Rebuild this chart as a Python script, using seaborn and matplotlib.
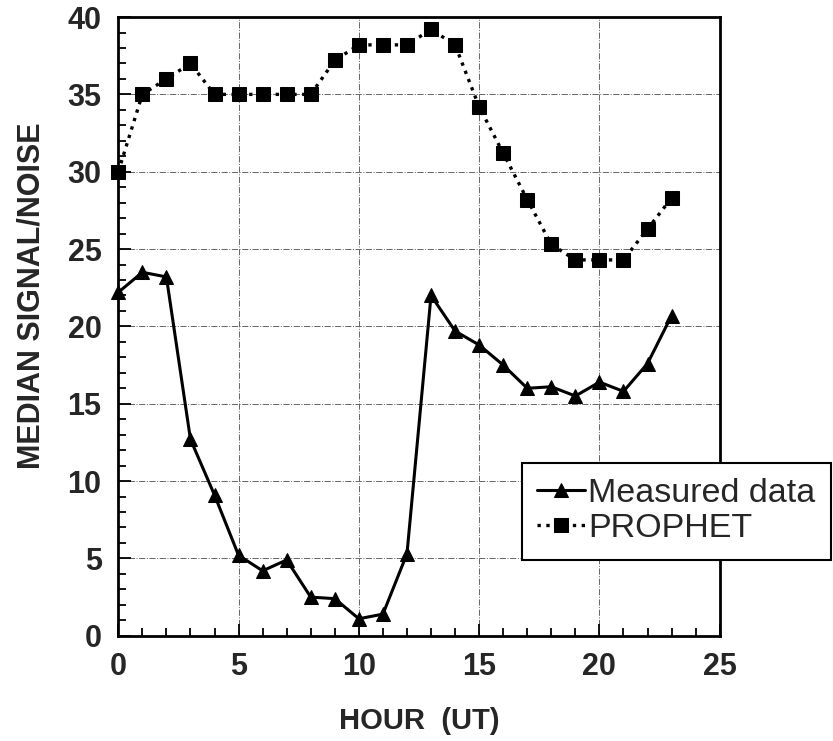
import numpy as np
import pandas as pd
import seaborn as sns
import matplotlib.pyplot as plt
from matplotlib.ticker import MultipleLocator

hours = list(range(24))
measured = [22.2, 23.5, 23.2, 12.7, 9.1, 5.2, 4.2, 4.9, 2.5, 2.4, 1.1, 1.4,
            5.3, 22.0, 19.7, 18.8, 17.5, 16.0, 16.1, 15.5, 16.4, 15.8, 17.6, 20.7]
prophet = [30, 35, 36, 37, 35, 35, 35, 35, 35, 37.2, 38.2, 38.2,
           38.2, 39.2, 38.2, 34.2, 31.2, 28.2, 25.3, 24.3, 24.3, 24.3, 26.3, 28.3]

df = pd.DataFrame({"hour": hours, "Measured data": measured, "PROPHET": prophet})

sns.set_style("ticks")
plt.rcParams['font.family'] = ['Liberation Sans', 'DejaVu Sans']

fig, ax = plt.subplots(figsize=(8.33, 7.41), dpi=100)
fig.subplots_adjust(left=0.142, right=0.864, top=0.977, bottom=0.142)

sns.lineplot(data=df, x="hour", y="Measured data", ax=ax, color="black",
             linewidth=2.2, marker="^", markersize=10, markeredgecolor="black",
             label="Measured data", clip_on=False)
sns.lineplot(data=df, x="hour", y="PROPHET", ax=ax, color="black",
             linewidth=2.4, linestyle=":", marker="s", markersize=10,
             markeredgecolor="black", label="PROPHET", clip_on=False)

ax.set_xlim(0, 25)
ax.set_ylim(0, 40)
ax.xaxis.set_major_locator(MultipleLocator(5))
ax.xaxis.set_minor_locator(MultipleLocator(1))
ax.yaxis.set_major_locator(MultipleLocator(5))
ax.yaxis.set_minor_locator(MultipleLocator(1))
ax.tick_params(which="both", direction="in", top=False, right=False,
               color="black", width=1.3)
ax.tick_params(which="major", length=9, labelsize=22, pad=12)
ax.tick_params(which="minor", length=6)
for lab in ax.get_xticklabels() + ax.get_yticklabels():
    lab.set_fontweight("bold")
ax.grid(which="major", color="#666666", linestyle="-.", linewidth=0.7)

for s in ax.spines.values():
    s.set_linewidth(2)
    s.set_color("black")

ax.set_xlabel("HOUR  (UT)", fontsize=21, fontweight="bold", labelpad=18)
ax.set_ylabel("MEDIAN SIGNAL/NOISE", fontsize=22, fontweight="bold")
ax.yaxis.set_label_coords(-0.12, 0.55)

leg = ax.legend(loc="lower left", bbox_to_anchor=(0.671, 0.123), fontsize=24.5,
                frameon=True, fancybox=False, handlelength=1.4,
                handletextpad=0.1, borderpad=0.45, labelspacing=0.12,
                borderaxespad=0)
leg.get_frame().set_edgecolor("black")
leg.get_frame().set_linewidth(1.5)
leg.get_frame().set_alpha(1)

fig.savefig("out.png", dpi=100)
